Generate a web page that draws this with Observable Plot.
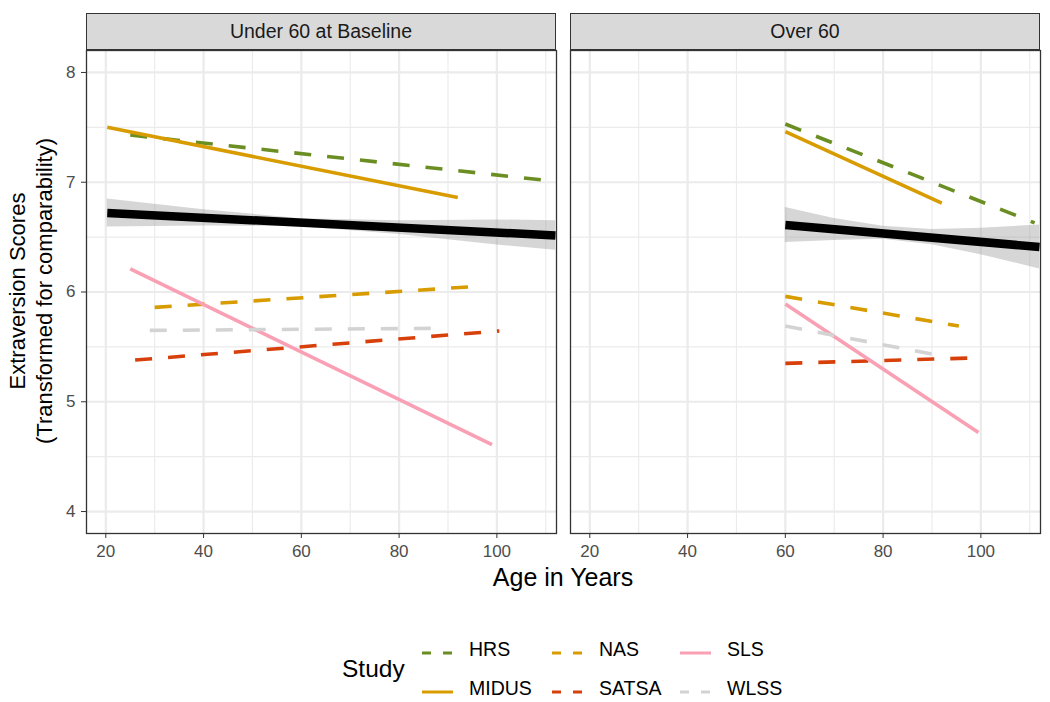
<!DOCTYPE html>
<html><head><meta charset="utf-8">
<script src="https://cdn.jsdelivr.net/npm/d3@7"></script>
<script src="https://cdn.jsdelivr.net/npm/@observablehq/plot@0.6"></script>
<style>
body{margin:0;background:#fff;font-family:"Liberation Sans",Arial,Helvetica,sans-serif;}
#wrap{position:relative;width:1050px;height:702px;overflow:hidden;background:#fff;}
#plot{position:absolute;left:0;top:0;}
.strip{position:absolute;top:13px;height:37px;width:470px;background:#D9D9D9;border:1.3px solid #333;box-sizing:border-box;display:flex;align-items:center;justify-content:center;font-size:19.5px;color:#1A1A1A;}
.ylab{position:absolute;left:31px;top:291px;width:500px;transform:translate(-50%,-50%) rotate(-90deg);text-align:center;font-size:22px;line-height:27px;color:#000;}
.xlab{position:absolute;left:563px;top:577px;transform:translate(-50%,-50%);font-size:25px;color:#000;white-space:nowrap;}
.legtitle{position:absolute;left:342px;top:669px;transform:translateY(-50%);font-size:24.5px;color:#000;}
.legkey{position:absolute;width:31px;height:10px;}
.leglab{position:absolute;transform:translateY(-50%);font-size:19.5px;color:#000;white-space:nowrap;}
</style></head>
<body><div id="wrap"><div id="plot"></div></div>
<script>
// ---- data ----
const panels = ["Under 60 at Baseline", "Over 60"];
const lineStudy = ["HRS", "MIDUS", "NAS", "SATSA", "SLS", "WLSS"];
const studyColors = ["#6B8E23", "#D89C00", "#D89C00", "#D8400B", "#F9A0B5", "#D3D3D3"];
const studyDashed = [true, false, true, true, false, true];

// Under 60 at Baseline: start/end of each study's fitted line
const u60Age0   = [25, 20.3, 30, 26, 25, 29];
const u60Age1   = [111.5, 92, 95.5, 100.5, 99, 89.5];
const u60Score0 = [7.43, 7.50, 5.86, 5.38, 6.21, 5.65];
const u60Score1 = [7.01, 6.86, 6.05, 5.645, 4.61, 5.67];

// Over 60
const o60Age0   = [60, 60, 60, 60, 60, 60];
const o60Age1   = [111, 92, 95.5, 99, 99.5, 90.5];
const o60Score0 = [7.53, 7.46, 5.96, 5.35, 5.89, 5.69];
const o60Score1 = [6.63, 6.81, 5.69, 5.40, 4.72, 5.43];

// overall (pooled) line
const overallU60Age = [20.3, 112];
const overallU60Score = [6.72, 6.515];
const overallO60Age = [60, 112];
const overallO60Score = [6.61, 6.41];

// confidence ribbons
const ribbonU60Age = [20.3, 40, 60, 80, 100, 112];
const ribbonU60Lo  = [6.592, 6.602, 6.595, 6.524, 6.428, 6.38];
const ribbonU60Hi  = [6.848, 6.75, 6.667, 6.65, 6.656, 6.65];
const ribbonO60Age = [60, 70, 80, 90, 100, 112];
const ribbonO60Lo  = [6.45, 6.47, 6.48, 6.43, 6.34, 6.21];
const ribbonO60Hi  = [6.77, 6.67, 6.60, 6.57, 6.58, 6.61];

const xTicks = [20, 40, 60, 80, 100];
const xMinor = [30, 50, 70, 90, 110];
const yTicks = [4, 5, 6, 7, 8];
const yMinor = [4.5, 5.5, 6.5, 7.5];

// ---- build tables ----
const rows = [];
lineStudy.forEach((s, i) => {
  rows.push({panel: panels[0], study: s, age: u60Age0[i], score: u60Score0[i]});
  rows.push({panel: panels[0], study: s, age: u60Age1[i], score: u60Score1[i]});
  rows.push({panel: panels[1], study: s, age: o60Age0[i], score: o60Score0[i]});
  rows.push({panel: panels[1], study: s, age: o60Age1[i], score: o60Score1[i]});
});
const overall = [];
overallU60Age.forEach((a, i) => overall.push({panel: panels[0], age: a, score: overallU60Score[i]}));
overallO60Age.forEach((a, i) => overall.push({panel: panels[1], age: a, score: overallO60Score[i]}));
const ribbon = [];
ribbonU60Age.forEach((a, i) => ribbon.push({panel: panels[0], age: a, lo: ribbonU60Lo[i], hi: ribbonU60Hi[i]}));
ribbonO60Age.forEach((a, i) => ribbon.push({panel: panels[1], age: a, lo: ribbonO60Lo[i], hi: ribbonO60Hi[i]}));

const grid = {stroke: "#EBEBEB", strokeOpacity: 1};
const chart = Plot.plot({
  width: 1050, height: 600,
  marginTop: 50, marginBottom: 67, marginLeft: 86, marginRight: 10,
  style: {fontFamily: '"Liberation Sans", Arial, Helvetica, sans-serif', fontSize: "17px", background: "transparent"},
  fx: {domain: panels, paddingInner: 14 / 484, paddingOuter: 0, axis: null, label: null},
  x: {domain: [16.05, 112.2], label: null},
  y: {domain: [3.8, 8.2], label: null},
  marks: [
    Plot.gridX(xMinor, {...grid, strokeWidth: 1.1}),
    Plot.gridY(yMinor, {...grid, strokeWidth: 1.1}),
    Plot.gridX(xTicks, {...grid, strokeWidth: 2.2}),
    Plot.gridY(yTicks, {...grid, strokeWidth: 2.2}),
    ...lineStudy.map((s, i) => Plot.line(rows.filter(r => r.study === s), {
      fx: "panel", x: "age", y: "score", z: "panel",
      stroke: studyColors[i], strokeWidth: 3.6, strokeLinecap: "butt",
      strokeDasharray: studyDashed[i] ? "17,16" : null
    })),
    Plot.areaY(ribbon, {fx: "panel", x: "age", y1: "lo", y2: "hi", z: "panel", fill: "#999999", fillOpacity: 0.4}),
    Plot.line(overall, {fx: "panel", x: "age", y: "score", z: "panel", stroke: "#000", strokeWidth: 8.5, strokeLinecap: "butt"}),
    Plot.frame({stroke: "#333333", strokeWidth: 1.3}),
    Plot.axisX(xTicks, {tickSize: 5, tickPadding: 6, fontSize: 17, fill: "#4D4D4D", stroke: "#333333", label: null, tickFormat: d => String(d)}),
    Plot.axisY(yTicks, {tickSize: 5, tickPadding: 6, fontSize: 17, fill: "#4D4D4D", stroke: "#333333", label: null, tickFormat: d => String(d)})
  ]
});
document.getElementById("plot").appendChild(chart);

// ---- strips, titles, legend ----
const wrap = document.getElementById("wrap");
function add(cls, html, style) {
  const d = document.createElement("div");
  d.className = cls; d.innerHTML = html;
  Object.assign(d.style, style || {});
  wrap.appendChild(d); return d;
}
add("strip", panels[0], {left: "86px"});
add("strip", panels[1], {left: "570px"});
add("ylab", "Extraversion Scores<br>(Transformed for comparability)");
add("xlab", "Age in Years");
add("legtitle", "Study");

const legCols = [422, 552, 680];
const legLabX = [469, 599, 727];
const legRows = [649, 688];
lineStudy.forEach((s, i) => {
  const c = Math.floor(i / 2), r = i % 2;
  add("legkey", `<svg width="31" height="10"><line x1="0" x2="31" y1="5" y2="5" stroke="${studyColors[i]}" stroke-width="3" ${studyDashed[i] ? 'stroke-dasharray="9,12"' : ''}/></svg>`,
    {left: legCols[c] + "px", top: (legRows[r] - 5) + "px"});
  add("leglab", s, {left: legLabX[c] + "px", top: legRows[r] + "px"});
});
</script>
</body></html>
